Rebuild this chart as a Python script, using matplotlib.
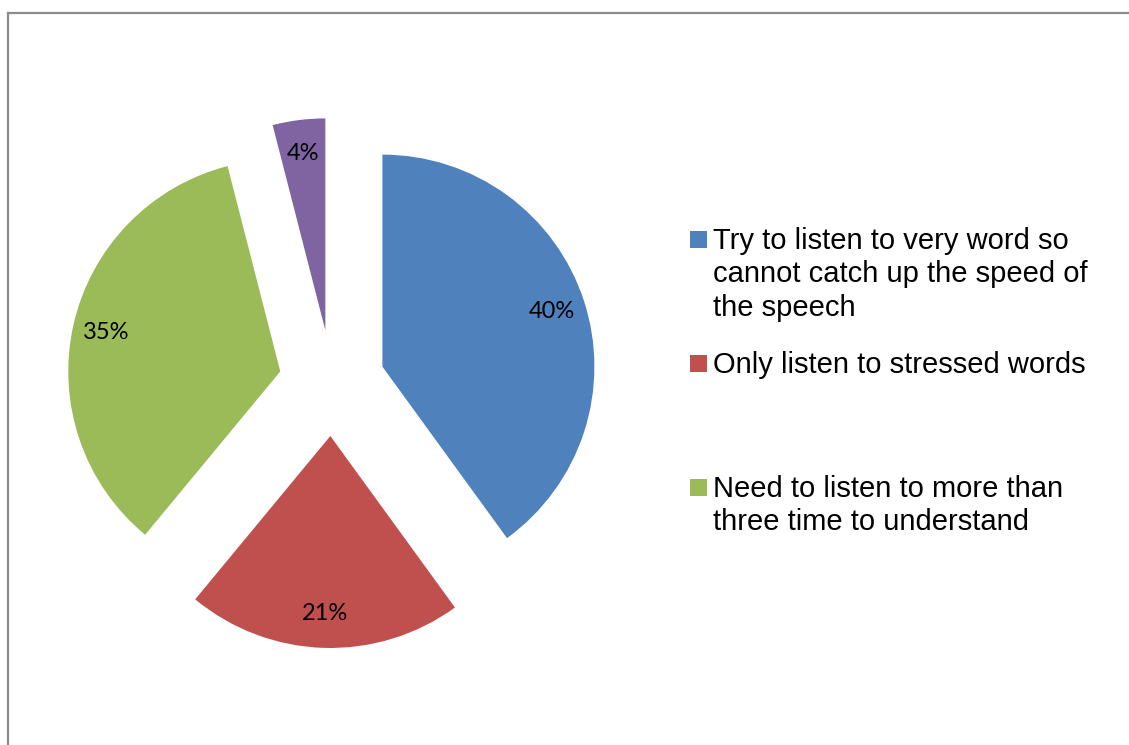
import matplotlib.pyplot as plt
from matplotlib.patches import Rectangle
from matplotlib.lines import Line2D

# Respuestas de la encuesta (porcentaje de estudiantes)
categorias = [
    "Try to listen to very word so\ncannot catch up the speed of\nthe speech",
    "Only listen to stressed words",
    "Need to listen to more than\nthree time to understand",
    "Other",
]
valores = [40, 21, 35, 4]
colores = ["#4F81BD", "#C0504D", "#9BBB59", "#8064A2"]
n_leyenda = 3  # solo caben tres entradas en la leyenda

W, H = 1129, 745
fig = plt.figure(figsize=(W / 100, H / 100), dpi=100)

# Ejes en coordenadas de píxel: centro del pastel y radio
cx, cy, r = 332, 383, 212
ax = fig.add_axes([0, 0, 1, 1])
wedges, textos, autotextos = ax.pie(
    valores,
    colors=colores,
    startangle=90,
    counterclock=False,
    explode=[0.25] * len(valores),
    autopct="%1.0f%%",
    pctdistance=0.84,
    wedgeprops=dict(linewidth=0),
    textprops=dict(fontsize=17, family="Lato", color="black"),
)
ax.set_xlim(-cx / r, (W - cx) / r)
ax.set_ylim(-(H - cy) / r, cy / r)
ax.axis("off")

# Marco gris del gráfico (recortado a la derecha y abajo)
gris = "#8C8C8C"
fig.add_artist(Line2D([8 / W, 8 / W], [0, 1 - 13 / H], color=gris, lw=1.6,
                      transform=fig.transFigure))
fig.add_artist(Line2D([8 / W, 1], [1 - 13 / H, 1 - 13 / H], color=gris, lw=1.6,
                      transform=fig.transFigure))

# Leyenda dibujada a mano (cuadro alineado con la primera línea)
base_y = [248, 372, 496]
for cat, col, by in zip(categorias[:n_leyenda], colores[:n_leyenda], base_y):
    fig.add_artist(Rectangle((690 / W, 1 - by / H), 17 / W, 17 / H,
                             facecolor=col, edgecolor="none",
                             transform=fig.transFigure))
    fig.text(713 / W, 1 - (by - 21) / H, cat, fontsize=21,
             family="Liberation Sans", va="top", ha="left", linespacing=1.24)

fig.savefig("out.png", dpi=100)
